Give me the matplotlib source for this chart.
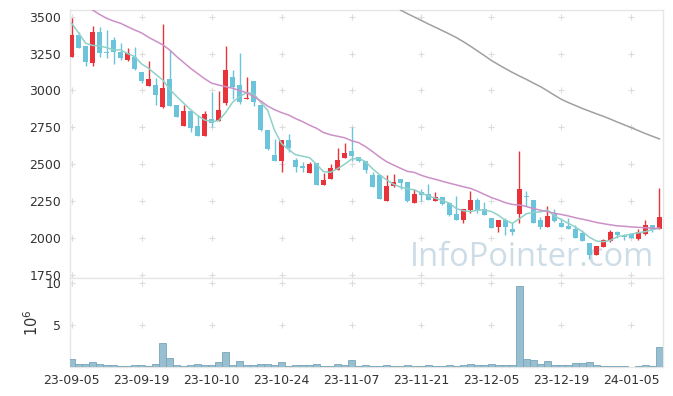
import numpy as np
import matplotlib
matplotlib.use("Agg")
import matplotlib.pyplot as plt

# daily candles, 23-09-05 .. 24-01-11 (85 trading days)
opens = [3230, 3376, 3302, 3185, 3394, 3257, 3342, 3264, 3207, 3225,
         3128, 3032, 3038, 2885, 3079, 2903, 2761, 2863, 2761, 2694,
         2806, 2790, 2912, 3090, 3037, 2940, 3064, 2902, 2732, 2563,
         2525, 2665, 2529, 2491, 2443, 2507, 2360, 2398, 2460, 2545,
         2590, 2547, 2525, 2428, 2428, 2254, 2353, 2401, 2383, 2240,
         2315, 2299, 2254, 2276, 2240, 2163, 2123, 2191, 2258, 2197,
         2139, 2078, 2123, 2062, 2161, 2281, 2259, 2123, 2078, 2164,
         2105, 2082, 2060, 2037, 1965, 1886, 1942, 1983, 2042, 2014,
         2028, 1994, 2026, 2089, 2062]
highs = [3489, 3399, 3302, 3437, 3432, 3410, 3360, 3320, 3286, 3293,
         3128, 3200, 3083, 3450, 3275, 2903, 2903, 2863, 2836, 2858,
         2993, 2995, 3301, 3142, 3256, 3089, 3064, 2902, 2732, 2669,
         2665, 2703, 2540, 2518, 2518, 2507, 2443, 2500, 2608, 2647,
         2750, 2547, 2525, 2450, 2428, 2428, 2434, 2401, 2383, 2331,
         2331, 2367, 2315, 2276, 2247, 2285, 2197, 2319, 2270, 2247,
         2139, 2123, 2139, 2100, 2590, 2322, 2259, 2146, 2218, 2195,
         2134, 2134, 2089, 2055, 1965, 1947, 1992, 2055, 2051, 2028,
         2033, 2060, 2123, 2089, 2338]
lows = [3225, 3286, 3169, 3169, 3230, 3219, 3180, 3207, 3203, 3140,
        3050, 3032, 2903, 2880, 2897, 2818, 2757, 2716, 2689, 2694,
        2750, 2790, 2900, 2940, 2908, 2940, 2895, 2728, 2597, 2525,
        2450, 2586, 2450, 2450, 2443, 2360, 2360, 2398, 2460, 2545,
        2525, 2518, 2443, 2349, 2263, 2254, 2349, 2331, 2247, 2240,
        2254, 2258, 2254, 2225, 2150, 2123, 2105, 2173, 2173, 2157,
        2066, 2044, 2021, 2021, 2105, 2220, 2105, 2060, 2073, 2112,
        2073, 2060, 1999, 1983, 1857, 1886, 1942, 1976, 2003, 1988,
        1999, 1988, 2021, 2044, 2060]
closes = [3376, 3290, 3196, 3394, 3252, 3252, 3264, 3223, 3252, 3146,
          3061, 3079, 2971, 3016, 2897, 2818, 2858, 2746, 2694, 2842,
          2780, 2868, 3140, 3025, 2924, 2948, 2920, 2732, 2601, 2525,
          2665, 2613, 2484, 2477, 2500, 2360, 2394, 2473, 2529, 2574,
          2556, 2520, 2461, 2349, 2263, 2353, 2383, 2376, 2254, 2299,
          2292, 2258, 2276, 2231, 2157, 2123, 2197, 2258, 2191, 2157,
          2066, 2123, 2078, 2044, 2331, 2277, 2105, 2078, 2150, 2119,
          2078, 2064, 1999, 1983, 1886, 1947, 1988, 2044, 2021, 2010,
          1999, 2044, 2089, 2055, 2141]
# volume in millions
volumes = [0.98, 0.35, 0.35, 0.59, 0.35, 0.24, 0.24, 0.12, 0.12, 0.24,
           0.24, 0.12, 0.35, 2.83, 1.06, 0.24, 0.12, 0.24, 0.35, 0.24,
           0.24, 0.59, 1.77, 0.24, 0.71, 0.24, 0.24, 0.35, 0.35, 0.24,
           0.59, 0.12, 0.24, 0.24, 0.24, 0.35, 0.12, 0.12, 0.35, 0.24,
           0.87, 0.12, 0.24, 0.12, 0.12, 0.24, 0.12, 0.12, 0.24, 0.12,
           0.12, 0.24, 0.12, 0.12, 0.24, 0.12, 0.24, 0.35, 0.24, 0.24,
           0.35, 0.24, 0.24, 0.24, 9.6, 0.98, 0.87, 0.35, 0.75, 0.24,
           0.24, 0.24, 0.47, 0.47, 0.59, 0.24, 0.12, 0.12, 0.12, 0.12,
           0.03, 0.12, 0.24, 0.12, 2.36]

# moving averages
ma5 = [3455, 3390, 3320, 3305, 3302, 3290, 3275, 3275, 3250, 3230,
       3180, 3150, 3110, 3072, 3010, 2960, 2915, 2870, 2830, 2800,
       2790, 2795, 2850, 2920, 2958, 2985, 2980, 2920, 2868, 2730,
       2640, 2600, 2565, 2555, 2545, 2500, 2450, 2446, 2470, 2500,
       2535, 2541, 2518, 2470, 2430, 2395, 2365, 2345, 2335, 2326,
       2305, 2285, 2270, 2255, 2236, 2200, 2185, 2180, 2190, 2190,
       2180, 2155, 2120, 2100, 2132, 2165, 2175, 2178, 2190, 2150,
       2125, 2100, 2075, 2044, 2006, 1980, 1976, 1985, 2010, 2018,
       2028, 2036, 2044, 2058, 2067]
ma20 = [3620, 3595, 3570, 3545, 3515, 3489, 3470, 3455, 3432, 3410,
        3390, 3360, 3335, 3310, 3275, 3230, 3190, 3150, 3115, 3080,
        3050, 3037, 3026, 3015, 3000, 2985, 2960, 2930, 2895, 2870,
        2850, 2834, 2810, 2789, 2765, 2744, 2715, 2700, 2690, 2680,
        2660, 2647, 2620, 2586, 2550, 2518, 2495, 2473, 2452, 2445,
        2425, 2410, 2398, 2385, 2372, 2360, 2348, 2337, 2318, 2296,
        2275, 2258, 2240, 2228, 2224, 2214, 2200, 2189, 2180, 2168,
        2160, 2150, 2138, 2128, 2118, 2106, 2098, 2090, 2083, 2080,
        2076, 2073, 2070, 2067, 2066]
ma_long = [np.nan] * 46 + [
    3590, 3545, 3520, 3497, 3474, 3450, 3428, 3405, 3382, 3358,
    3330, 3300, 3268, 3236, 3203, 3175, 3148, 3122, 3098, 3075,
    3050, 3026, 2998, 2968, 2940, 2918, 2898, 2878, 2860, 2842,
    2825, 2806, 2786, 2767, 2748, 2728, 2708, 2690, 2672]

date_labels = ["23-09-05", "23-09-19", "23-10-10", "23-10-24", "23-11-07",
               "23-11-21", "23-12-05", "23-12-19", "24-01-05"]
price_ticks = [1750, 2000, 2250, 2500, 2750, 3000, 3250, 3500]
vol_ticks = [5, 10]

UP = "#e8333b"
DOWN = "#6bc4da"
GRID = "#dcdcdc"
SPINE = "#e6e6e6"
TXT = "#333333"

o = np.array(opens, float)
h = np.array(highs, float)
l = np.array(lows, float)
c = np.array(closes, float)
x = np.arange(len(o))
up = c >= o
colors = np.where(up, UP, DOWN)

fig = plt.figure(figsize=(6.73, 3.96), dpi=100)
ax = fig.add_axes([0.1033, 0.298, 0.8817, 0.6767])
axv = fig.add_axes([0.1033, 0.0732, 0.8817, 0.2248], sharex=ax)

# watermark behind the candles
ax.text(0.985, 0.045, "InfoPointer.com", transform=ax.transAxes,
        ha="right", va="baseline", fontsize=23.5, family="Open Sans",
        color="#cddde8", zorder=0)

# candles
ax.vlines(x, l, h, colors=colors, linewidth=1.0, zorder=3)
body_lo = np.minimum(o, c)
body_h = np.maximum(np.abs(c - o), 6)
ax.bar(x, body_h, bottom=body_lo, width=0.7, color=colors, linewidth=0, zorder=4)

ax.plot(x, ma5, color="#8fd1c9", linewidth=1.1, zorder=5)
ax.plot(x, ma20, color="#cc90c8", linewidth=1.1, zorder=5)
ax.plot(x, ma_long, color="#a0a0a0", linewidth=1.1, zorder=5)

ax.set_xlim(-0.3, 84.5)
ax.set_ylim(1730, 3545)
ax.set_yticks(price_ticks)
ax.tick_params(axis="x", labelbottom=False)

# volume
axv.bar(x, volumes, width=1.0, color="#97bfcf", edgecolor="#78a5b9",
        linewidth=0.6, zorder=3)
axv.set_ylim(0, 10.6)
axv.set_yticks(vol_ticks)
axv.set_ylabel(r"$10^6$", fontsize=10.5, color=TXT, labelpad=3)
axv.set_xticks(np.arange(0, 85, 10))
axv.set_xticklabels(date_labels)

# plus-shaped grid marks at tick intersections
xt = np.arange(0, 85, 10)
for a, yt in ((ax, price_ticks), (axv, vol_ticks)):
    gx, gy = np.meshgrid(xt, yt)
    a.scatter(gx.ravel(), gy.ravel(), marker="+", s=20, color=GRID,
              linewidths=0.8, zorder=1)
    a.tick_params(length=0, labelsize=9, labelcolor=TXT, pad=6)
    for sp in a.spines.values():
        sp.set_color(SPINE)
        sp.set_linewidth(1.0)
axv.tick_params(axis="x", pad=5)

fig.savefig("out.png", dpi=100)
